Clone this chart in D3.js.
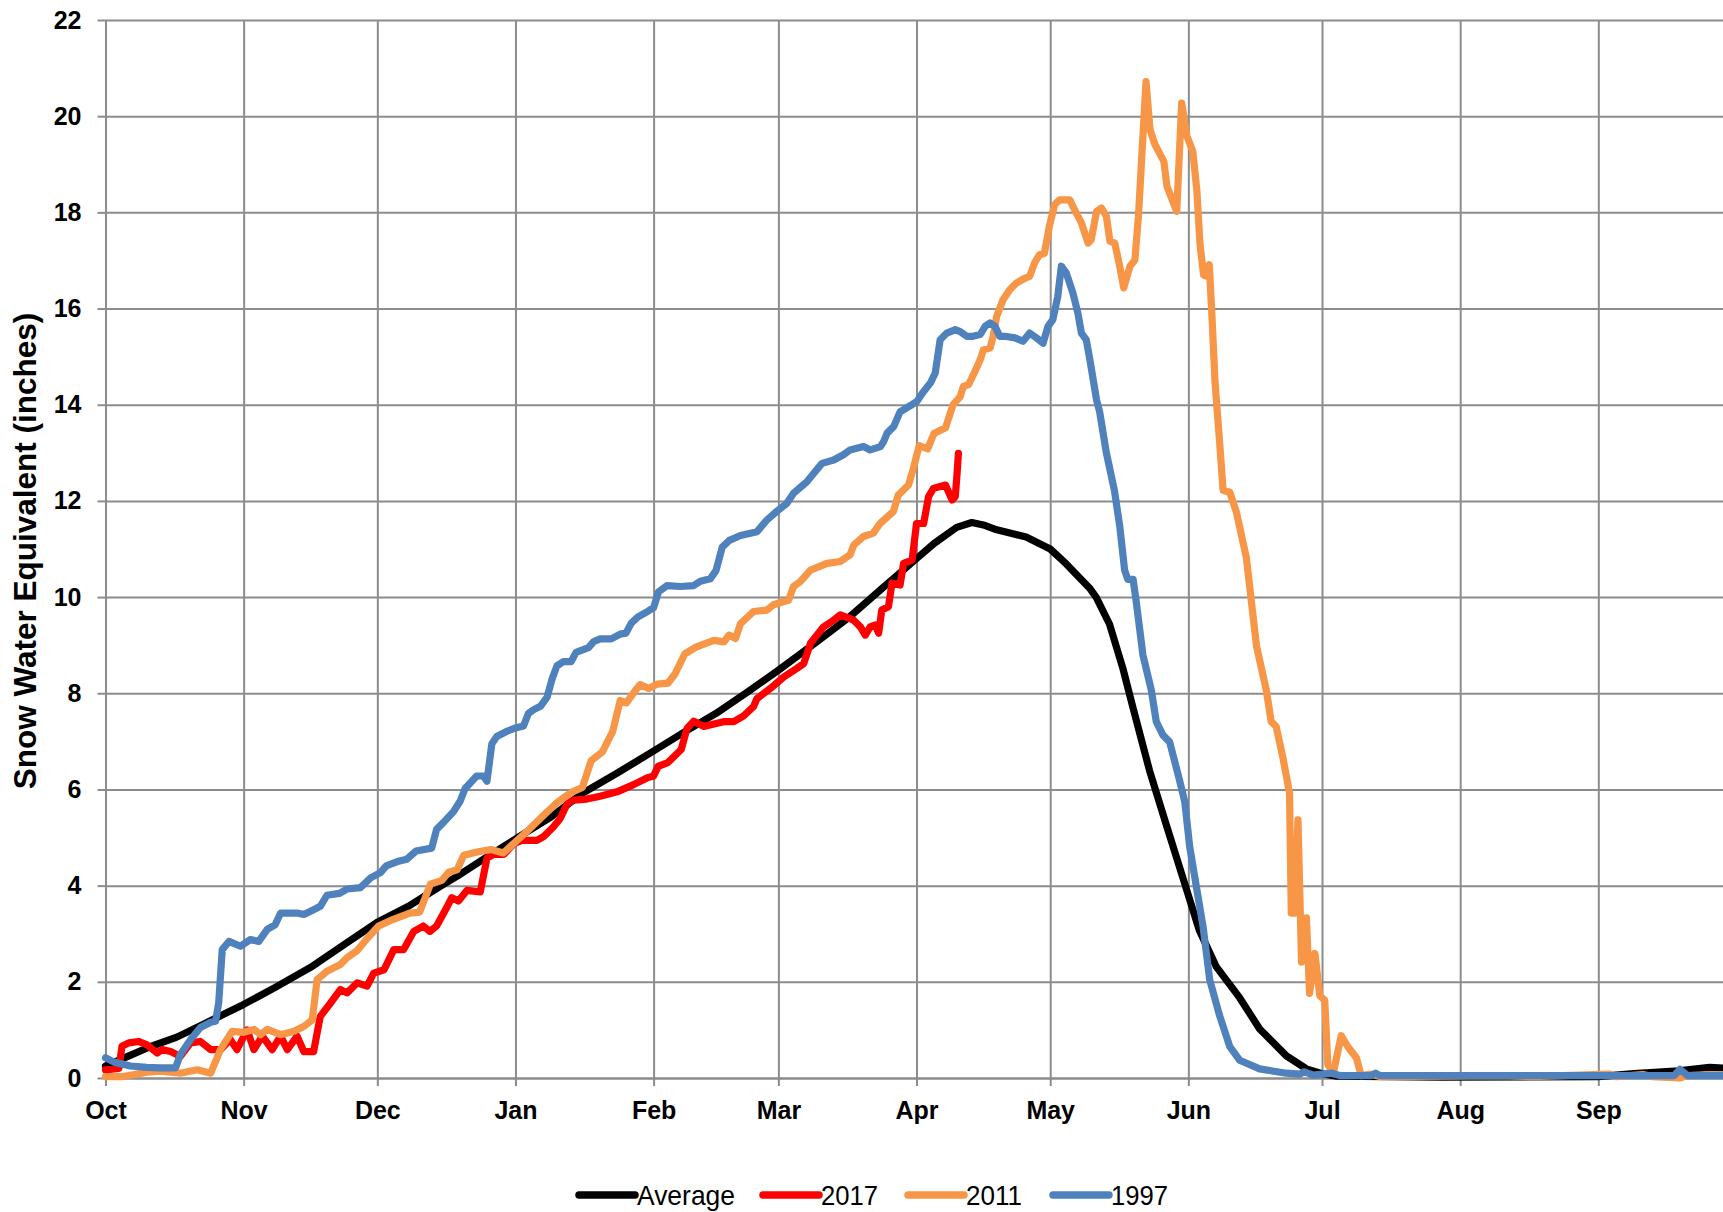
<!DOCTYPE html>
<html>
<head>
<meta charset="utf-8">
<script src="https://cdn.jsdelivr.net/npm/d3@7"></script>
<style>
  html, body { margin: 0; padding: 0; background: #fff; }
  svg { display: block; font-family: "Liberation Sans", Arial, sans-serif; }
</style>
</head>
<body>
<svg id="chart" width="1723" height="1212"></svg>
<script>
// ---- data (day index from Oct 1, snow water equivalent in inches) ----
const monthLabels = ["Oct","Nov","Dec","Jan","Feb","Mar","Apr","May","Jun","Jul","Aug","Sep"];
const monthStartDays = [0,31,61,92,123,151,182,212,243,273,304,335];
const yTicks = [0,2,4,6,8,10,12,14,16,18,20,22];
const seriesNames = ["Average","2017","2011","1997"];

const average = [[0,0.25],[5,0.45],[10,0.65],[16,0.85],[22,1.12],[31,1.53],[38,1.88],[46,2.3],[54,2.8],[61,3.24],[68,3.57],[75,3.98],[79,4.2],[86,4.62],[92,4.97],[100,5.43],[107,5.92],[115,6.35],[123,6.8],[130,7.2],[137,7.58],[144,8.02],[151,8.48],[159.6,9.07],[167,9.59],[174.5,10.2],[182,10.8],[186,11.12],[191,11.45],[194.4,11.55],[197,11.5],[200,11.4],[206.6,11.25],[212,11.0],[215.6,10.69],[220.8,10.19],[222.3,10.0],[225.3,9.44],[228.3,8.52],[230.6,7.69],[234.3,6.39],[238,5.28],[243,3.8],[245.5,3.06],[249.3,2.31],[254.5,1.67],[259,1.02],[265,0.46],[269.5,0.19],[273,0.09],[276,0.04],[300,0.02],[335,0.03],[343,0.09],[353,0.15],[360,0.22],[365,0.2]];

const y2017 = [[0,0.17],[3,0.2],[3.7,0.66],[5.2,0.73],[7.5,0.76],[9.3,0.69],[11.6,0.52],[12.7,0.59],[14.6,0.55],[16.8,0.45],[19.1,0.73],[21.3,0.76],[23.6,0.59],[25.8,0.59],[28,0.8],[29.5,0.59],[31.8,1.0],[33.3,0.59],[35.2,0.87],[37.4,0.59],[39.3,0.87],[40.8,0.59],[43,0.87],[44.5,0.55],[46.7,0.55],[48.2,1.28],[50.5,1.56],[52.7,1.84],[54.2,1.77],[56.5,1.98],[58.7,1.91],[60.2,2.18],[62.5,2.25],[64.7,2.67],[66.9,2.67],[69.2,3.05],[71.3,3.16],[72.8,3.05],[74.3,3.16],[76.6,3.55],[77.7,3.75],[79.2,3.68],[81.1,3.9],[84.1,3.87],[85.6,4.57],[87.1,4.65],[89.4,4.65],[91.6,4.87],[93.4,4.94],[96.8,4.94],[98.3,5.02],[100.5,5.22],[102,5.39],[103.6,5.7],[105,5.78],[108,5.8],[111,5.86],[114.8,5.95],[118.5,6.1],[121.5,6.24],[123,6.28],[124,6.48],[126.2,6.56],[129.2,6.83],[130.5,7.27],[132,7.42],[134.2,7.31],[138.7,7.41],[141,7.41],[143.2,7.53],[145.4,7.72],[146.2,7.89],[149.2,8.1],[152.2,8.34],[155.2,8.52],[156.7,8.62],[158.2,9.04],[161.1,9.38],[163.4,9.52],[164.9,9.63],[167.9,9.52],[169.4,9.38],[170.5,9.21],[171.6,9.38],[172.7,9.42],[173.5,9.25],[174.2,9.73],[175.7,9.8],[176.5,10.29],[178.3,10.25],[179.1,10.7],[181,10.77],[182,11.53],[183.6,11.53],[184.7,12.09],[185.8,12.26],[187.3,12.3],[188.5,12.33],[190,12.02],[190.7,12.09],[191.1,12.57],[191.4,12.99]];

const y2011 = [[0,0.03],[4,0.03],[9.3,0.12],[12.3,0.14],[16.8,0.1],[20.6,0.17],[23.6,0.1],[25.8,0.59],[28.4,0.97],[31,0.95],[33.3,1.01],[34.8,0.9],[36.3,1.01],[39.3,0.9],[42.3,0.97],[44.5,1.07],[46.4,1.21],[47.5,2.05],[49.7,2.22],[52.7,2.36],[54.2,2.5],[56.5,2.65],[58.7,2.9],[61.3,3.16],[64.6,3.3],[68.3,3.43],[70.5,3.45],[72.9,4.03],[75.5,4.11],[77,4.28],[78.9,4.33],[80.4,4.63],[83.4,4.7],[86.5,4.75],[89.3,4.68],[92,4.91],[94.6,5.13],[98.3,5.46],[101.5,5.74],[104.5,5.94],[107,6.04],[109,6.6],[111.5,6.78],[113.8,7.2],[115.5,7.85],[116.9,7.8],[119,8.07],[120,8.18],[121.9,8.1],[123.8,8.19],[126.2,8.21],[127.8,8.4],[130,8.82],[132.5,8.96],[136.5,9.1],[138.8,9.07],[139.9,9.21],[141.4,9.14],[142.5,9.45],[145.4,9.7],[148.4,9.73],[149.9,9.84],[153.3,9.94],[154.4,10.22],[155.9,10.32],[158.2,10.56],[161.9,10.7],[164.9,10.74],[167.1,10.88],[167.9,11.08],[170.1,11.26],[172.3,11.33],[173.8,11.53],[176.8,11.78],[177.9,12.12],[180.2,12.33],[181.3,12.68],[182.6,13.15],[184.5,13.08],[185.9,13.4],[188.5,13.52],[190.2,14.0],[191.8,14.17],[192.5,14.38],[193.7,14.42],[195.1,14.69],[196.3,14.94],[197,15.14],[198.5,15.18],[199.2,15.42],[200,15.84],[201.4,16.18],[202.9,16.39],[204.4,16.53],[206.3,16.63],[207.4,16.67],[208.5,16.95],[209.6,17.12],[210.7,17.15],[211.8,17.71],[213,18.16],[214.1,18.26],[216.4,18.26],[217.5,18.05],[219,17.78],[220.5,17.36],[221.2,17.43],[222.4,18.02],[223.5,18.09],[224.6,17.92],[225.4,17.4],[226.5,17.36],[227.6,16.88],[228.5,16.43],[229.9,16.88],[231,17.01],[231.8,17.92],[233.5,20.72],[234.4,19.72],[235.5,19.41],[237.5,19.06],[238.2,18.54],[240.4,18.02],[241.5,20.27],[242.7,19.58],[244,19.27],[244.9,18.47],[245.6,17.36],[246.4,16.7],[247.1,16.67],[247.7,16.91],[248.3,15.84],[249,14.45],[250,13.24],[250.8,12.22],[252.3,12.18],[253.8,11.76],[256,10.83],[258.3,8.98],[260.5,8.06],[261.6,7.41],[262.7,7.31],[264.2,6.67],[265.7,5.93],[266.1,3.43],[266.9,3.43],[267.6,5.37],[268.4,2.41],[269.5,3.33],[270.2,1.76],[271.4,2.59],[272.5,1.71],[273.6,1.62],[274.3,0.28],[275.5,0.09],[277.3,0.88],[278.8,0.65],[280.7,0.42],[281.8,0.05],[284,0.08],[286,0.03],[313,0.05],[320,0.03],[337.6,0.08],[339,0.03],[345,0.07],[347,0.03],[353.3,0.0],[355,0.05],[360,0.07],[365,0.05]];

const y1997 = [[0,0.42],[1.9,0.33],[5.6,0.25],[9.3,0.22],[12.3,0.21],[15.7,0.21],[16.8,0.49],[19.1,0.8],[21.3,1.05],[23.6,1.16],[24.7,1.18],[25.4,1.56],[26.2,2.67],[27.7,2.84],[30.3,2.74],[32.5,2.88],[34.4,2.84],[36.3,3.09],[38.1,3.19],[39.3,3.43],[43,3.43],[44.5,3.4],[46.7,3.5],[48.2,3.57],[49.7,3.8],[52.5,3.84],[54.2,3.93],[57.2,3.96],[59.5,4.16],[61.7,4.27],[63,4.41],[65.5,4.5],[67.6,4.55],[69.7,4.72],[73.2,4.78],[74.3,5.17],[75.8,5.31],[78.1,5.54],[79.6,5.76],[80.7,6.02],[81.8,6.13],[83.3,6.28],[84.8,6.28],[85.6,6.17],[86.7,6.95],[87.8,7.1],[90.1,7.21],[92,7.28],[93.8,7.32],[94.9,7.58],[96.1,7.66],[97.6,7.73],[99.1,7.92],[100.2,8.29],[101.3,8.57],[102.8,8.66],[104.5,8.66],[105.6,8.85],[108.4,8.95],[109.5,9.07],[111,9.13],[113.5,9.13],[115.5,9.23],[116.8,9.25],[118,9.46],[119.5,9.59],[121.6,9.7],[123,9.78],[124.1,10.11],[126,10.24],[129,10.22],[132,10.24],[133.5,10.33],[135.7,10.38],[137,10.55],[138.4,11.04],[140,11.18],[142.5,11.28],[146.2,11.36],[148.4,11.6],[150.6,11.78],[152.9,11.95],[154.4,12.16],[157.4,12.4],[158.9,12.57],[160.8,12.78],[163.4,12.85],[165.6,12.96],[167.1,13.06],[170.1,13.13],[171.6,13.06],[173.9,13.13],[174.6,13.23],[175.4,13.41],[176.9,13.55],[178.3,13.85],[180.6,13.98],[182.1,14.07],[183.3,14.24],[185.1,14.45],[186.2,14.66],[187.3,15.35],[188.8,15.49],[190.7,15.56],[191.8,15.52],[193.3,15.42],[194.4,15.42],[196.3,15.46],[197.4,15.63],[198.5,15.7],[199.6,15.63],[200.7,15.42],[202.2,15.42],[204.1,15.39],[205.9,15.32],[207.4,15.49],[208.9,15.39],[210.4,15.28],[211.5,15.63],[212.6,15.77],[213.7,16.25],[214.5,16.88],[215.6,16.74],[217.1,16.32],[218.2,15.91],[219,15.49],[220.1,15.35],[220.9,14.94],[222.4,14.1],[223.1,13.85],[224.6,13.0],[226.4,12.22],[227.6,11.48],[228.7,10.56],[229.4,10.37],[230.6,10.37],[231.3,9.91],[232.8,8.8],[234.7,8.06],[235.8,7.41],[237.3,7.13],[238.8,6.99],[241,6.2],[242.2,5.74],[243.3,4.81],[244.8,3.98],[246.3,3.15],[247.8,2.04],[250,1.3],[252.3,0.65],[254.5,0.37],[259,0.19],[265,0.1],[268,0.08],[269,0.13],[271,0.06],[275.3,0.1],[277,0.05],[284,0.05],[285,0.1],[286,0.05],[352,0.05],[353.3,0.18],[355,0.05],[365,0.05]];

const seriesData = [average, y2017, y2011, y1997];
const seriesColors = ["#000000","#ff0000","#f79646","#4f81bd"];

// ---- layout ----
const svg = d3.select("#chart");
const W = 1723, H = 1212;
const x = d3.scaleLinear().domain([0,365]).range([105.5, 1732]);
const y = d3.scaleLinear().domain([0,22]).range([1078, 20]);
const gridColor = "#8c8c8c";

svg.append("rect").attr("width", W).attr("height", H).attr("fill", "#fff");

// horizontal gridlines
const gY = svg.append("g").attr("transform", `translate(${x(0)},0)`)
  .call(d3.axisLeft(y).tickValues(yTicks).tickSizeInner(-(x(365)-x(0))).tickSizeOuter(0).tickFormat(""));
gY.select(".domain").remove();
gY.selectAll("line").attr("stroke", gridColor).attr("stroke-width", 2);

// vertical gridlines
const gX = svg.append("g").attr("transform", `translate(0,${y(0)})`)
  .call(d3.axisBottom(x).tickValues(monthStartDays).tickSizeInner(-(y(0)-y(22))).tickSizeOuter(0).tickFormat(""));
gX.select(".domain").remove();
gX.selectAll("line").attr("stroke", gridColor).attr("stroke-width", 2);

// y axis with ticks + labels
const yAxis = svg.append("g").attr("transform", `translate(${x(0)},0)`)
  .call(d3.axisLeft(y).tickValues(yTicks).tickSizeInner(8).tickSizeOuter(0).tickPadding(16));
yAxis.select(".domain").attr("stroke", gridColor).attr("stroke-width", 2);
yAxis.selectAll("line").attr("stroke", gridColor).attr("stroke-width", 2);
yAxis.selectAll("text").attr("font-size", 25).attr("font-weight", "bold").attr("fill", "#000")
  .attr("font-family", '"Liberation Sans", Arial, sans-serif');

// x axis
const xAxis = svg.append("g").attr("transform", `translate(0,${y(0)})`)
  .call(d3.axisBottom(x).tickValues(monthStartDays).tickSizeInner(8).tickSizeOuter(0).tickPadding(15)
    .tickFormat((d,i) => monthLabels[i]));
xAxis.select(".domain").attr("stroke", gridColor).attr("stroke-width", 2);
xAxis.selectAll("line").attr("stroke", gridColor).attr("stroke-width", 2);
xAxis.selectAll("text").attr("font-size", 25).attr("font-weight", "bold").attr("fill", "#000")
  .attr("font-family", '"Liberation Sans", Arial, sans-serif');

// y axis title
svg.append("text")
  .attr("transform", `translate(36,${(y(0)+y(22))/2 + 2}) rotate(-90)`)
  .attr("text-anchor", "middle")
  .attr("font-size", 31.5).attr("font-weight", "bold").attr("fill", "#000")
  .text("Snow Water Equivalent (inches)");

// series lines
const line = d3.line().x(d => x(d[0])).y(d => y(d[1])).curve(d3.curveLinear);
seriesData.forEach((data, i) => {
  svg.append("path")
    .datum(data)
    .attr("d", line)
    .attr("fill", "none")
    .attr("stroke", seriesColors[i])
    .attr("stroke-width", 7.2)
    .attr("stroke-linejoin", "round")
    .attr("stroke-linecap", "round");
});

// legend
const legendLineX = [579, 763, 908, 1053];
const legendTextLen = [98, 57, 56, 57];
const legendY = 1195;
seriesNames.forEach((name, i) => {
  svg.append("line")
    .attr("x1", legendLineX[i]).attr("x2", legendLineX[i] + 56)
    .attr("y1", legendY).attr("y2", legendY)
    .attr("stroke", seriesColors[i]).attr("stroke-width", 7.5).attr("stroke-linecap", "round");
  svg.append("text")
    .attr("x", legendLineX[i] + 58).attr("y", legendY + 10)
    .attr("font-size", 28).attr("fill", "#000")
    .attr("textLength", legendTextLen[i]).attr("lengthAdjust", "spacingAndGlyphs")
    .text(name);
});
</script>
</body>
</html>
